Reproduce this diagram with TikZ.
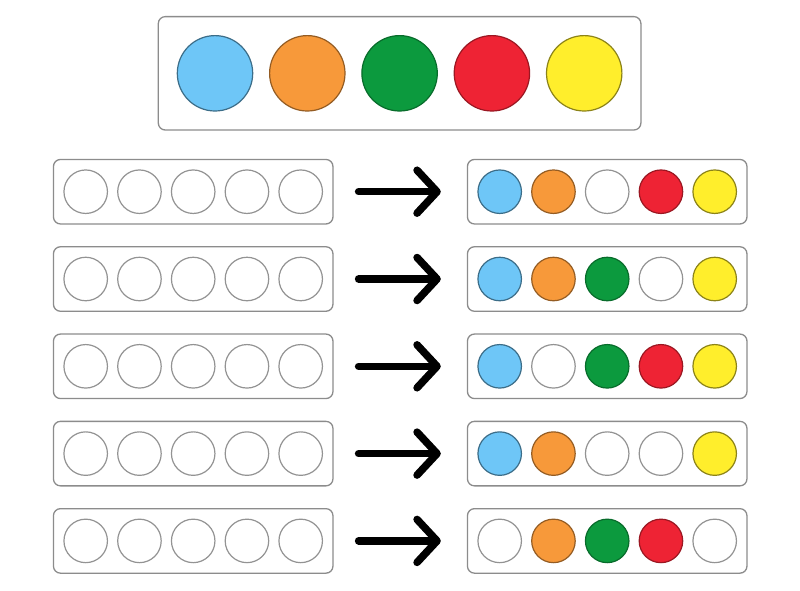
\documentclass[tikz,border=0pt]{standalone}
\usetikzlibrary{positioning,fit,arrows.meta}
\definecolor{skyblue}{HTML}{6EC6F7}
\definecolor{pumpkin}{HTML}{F7993A}
\definecolor{leaf}{HTML}{0C9A3E}
\definecolor{cherry}{HTML}{EE2334}
\definecolor{lemon}{HTML}{FFEE2C}
\tikzstyle{rowbox} = [draw=gray!90, rectangle, rounded corners=7pt,
    line width=1.3pt, inner sep=10.5pt]
\tikzstyle{dot} = [draw=gray!85, circle, line width=1.2pt,
    minimum size=43.5pt, inner sep=0pt, outer sep=0pt, fill=white]
\tikzstyle{bigdot} = [circle, line width=1.2pt,
    minimum size=75.4pt, inner sep=0pt, outer sep=0pt]
\tikzset{
  bluefill/.style={fill=skyblue, draw=skyblue!55!black},
  orangefill/.style={fill=pumpkin, draw=pumpkin!60!black},
  greenfill/.style={fill=leaf, draw=leaf!70!black},
  redfill/.style={fill=cherry, draw=cherry!65!black},
  yellowfill/.style={fill=lemon, draw=lemon!55!black},
  arrowline/.style={line width=7.5pt, line cap=round,
    -{Straight Barb[length=20pt,width=43pt,round]},
    shorten <=25pt, shorten >=26pt}
}

\begin{document}
\begin{tikzpicture}[x=1pt,y=-1pt,node distance=10.25pt]
    \useasboundingbox[fill=white] (0,0) rectangle (800,590);

    %palette on top
    \node (pblue) [bigdot,bluefill] at (215,73.3) {};
    \node (porange) [bigdot,orangefill,right=16.9pt of pblue] {};
    \node (pgreen) [bigdot,greenfill,right=16.9pt of porange] {};
    \node (pred) [bigdot,redfill,right=16.9pt of pgreen] {};
    \node (pyellow) [bigdot,yellowfill,right=16.9pt of pred] {};
    \node (palette) [rowbox,inner sep=19pt,fit=(pblue) (pyellow)] {};

    %row 1
    \node (l1a) [dot] at (85.7,191.7) {};
    \node (l1b) [dot,right=of l1a] {};
    \node (l1c) [dot,right=of l1b] {};
    \node (l1d) [dot,right=of l1c] {};
    \node (l1e) [dot,right=of l1d] {};
    \node (lrow1) [rowbox,fit=(l1a) (l1e)] {};
    \node (r1a) [dot,bluefill] at (499.7,191.7) {};
    \node (r1b) [dot,orangefill,right=of r1a] {};
    \node (r1c) [dot,right=of r1b] {};
    \node (r1d) [dot,redfill,right=of r1c] {};
    \node (r1e) [dot,yellowfill,right=of r1d] {};
    \node (rrow1) [rowbox,fit=(r1a) (r1e)] {};

    %row 2
    \node (l2a) [dot] at (85.7,279) {};
    \node (l2b) [dot,right=of l2a] {};
    \node (l2c) [dot,right=of l2b] {};
    \node (l2d) [dot,right=of l2c] {};
    \node (l2e) [dot,right=of l2d] {};
    \node (lrow2) [rowbox,fit=(l2a) (l2e)] {};
    \node (r2a) [dot,bluefill] at (499.7,279) {};
    \node (r2b) [dot,orangefill,right=of r2a] {};
    \node (r2c) [dot,greenfill,right=of r2b] {};
    \node (r2d) [dot,right=of r2c] {};
    \node (r2e) [dot,yellowfill,right=of r2d] {};
    \node (rrow2) [rowbox,fit=(r2a) (r2e)] {};

    %row 3
    \node (l3a) [dot] at (85.7,366.3) {};
    \node (l3b) [dot,right=of l3a] {};
    \node (l3c) [dot,right=of l3b] {};
    \node (l3d) [dot,right=of l3c] {};
    \node (l3e) [dot,right=of l3d] {};
    \node (lrow3) [rowbox,fit=(l3a) (l3e)] {};
    \node (r3a) [dot,bluefill] at (499.7,366.3) {};
    \node (r3b) [dot,right=of r3a] {};
    \node (r3c) [dot,greenfill,right=of r3b] {};
    \node (r3d) [dot,redfill,right=of r3c] {};
    \node (r3e) [dot,yellowfill,right=of r3d] {};
    \node (rrow3) [rowbox,fit=(r3a) (r3e)] {};

    %row 4
    \node (l4a) [dot] at (85.7,453.6) {};
    \node (l4b) [dot,right=of l4a] {};
    \node (l4c) [dot,right=of l4b] {};
    \node (l4d) [dot,right=of l4c] {};
    \node (l4e) [dot,right=of l4d] {};
    \node (lrow4) [rowbox,fit=(l4a) (l4e)] {};
    \node (r4a) [dot,bluefill] at (499.7,453.6) {};
    \node (r4b) [dot,orangefill,right=of r4a] {};
    \node (r4c) [dot,right=of r4b] {};
    \node (r4d) [dot,right=of r4c] {};
    \node (r4e) [dot,yellowfill,right=of r4d] {};
    \node (rrow4) [rowbox,fit=(r4a) (r4e)] {};

    %row 5
    \node (l5a) [dot] at (85.7,540.9) {};
    \node (l5b) [dot,right=of l5a] {};
    \node (l5c) [dot,right=of l5b] {};
    \node (l5d) [dot,right=of l5c] {};
    \node (l5e) [dot,right=of l5d] {};
    \node (lrow5) [rowbox,fit=(l5a) (l5e)] {};
    \node (r5a) [dot] at (499.7,540.9) {};
    \node (r5b) [dot,orangefill,right=of r5a] {};
    \node (r5c) [dot,greenfill,right=of r5b] {};
    \node (r5d) [dot,redfill,right=of r5c] {};
    \node (r5e) [dot,right=of r5d] {};
    \node (rrow5) [rowbox,fit=(r5a) (r5e)] {};

    %arrows
    \draw[arrowline] (lrow1.east) -- (rrow1.west);
    \draw[arrowline] (lrow2.east) -- (rrow2.west);
    \draw[arrowline] (lrow3.east) -- (rrow3.west);
    \draw[arrowline] (lrow4.east) -- (rrow4.west);
    \draw[arrowline] (lrow5.east) -- (rrow5.west);

\end{tikzpicture}
\end{document}
